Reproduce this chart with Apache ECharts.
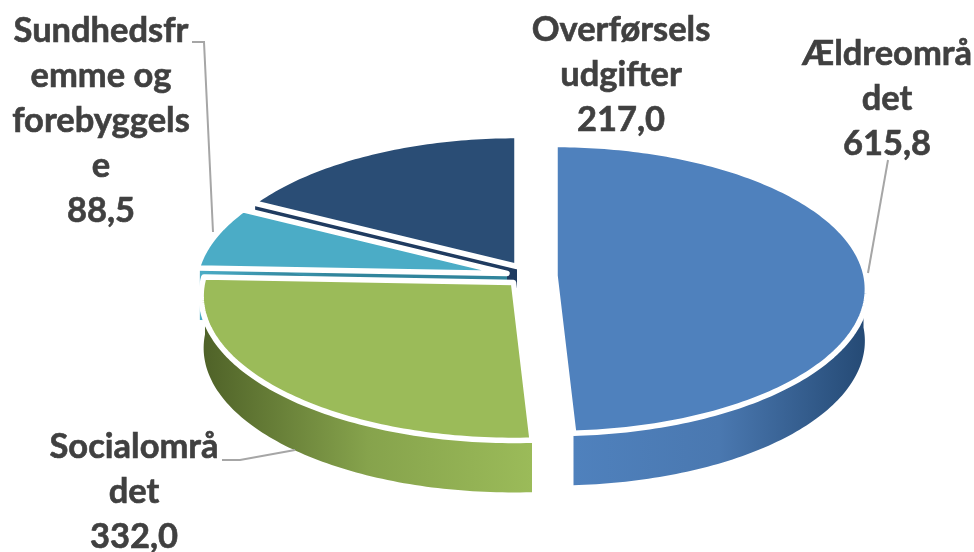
<!DOCTYPE html>
<html>
<head>
<meta charset="utf-8">
<style>html,body{margin:0;background:#fff}#chart{width:974px;height:552px}</style>
<script src="https://cdn.jsdelivr.net/npm/echarts@6/dist/echarts.min.js"></script>
</head>
<body>
<div id="chart"></div>
<script>
const categories = ['Ældreområ\ndet', 'Socialområ\ndet', 'Sundhedsfr\nemme og\nforebyggels\ne', 'Overførsels\nudgifter'];
const values = [615.8, 332.0, 88.5, 217.0];

// look of each slice, same order as the data
const colors = ['#4f81bd', '#9bbb59', '#4bacc6', '#2a4d75'];
const wallColors = [['#4f81bd', '#4a78b0', '#254a75'], ['#4f6228', '#86a34c', '#9bbb59'], ['#4bacc6', '#31859c', '#31859c', '#31859c'], ['#1f3b60', '#1f3b60']];
const centers = [[555, 275.5], [513.5, 282.5], [507, 273.5], [517, 266.5]];
const labelPos = [[887, 99], [134, 492], [101, 121], [621, 75]];
const leaders = [[[868, 273], [888, 160]], [[295, 450], [240, 460], [222, 460]], [[213, 232], [204, 42], [192, 42]], null];

const RX = 311, RY = 143.2, TILT = 0.0934, DEPTH = 52, WALL_INSET = 0.992;
const total = values.reduce((a, b) => a + b, 0);
const starts = values.map((v, i) => values.slice(0, i).reduce((a, b) => a + b, 0) / total * 360);

// point on the rim, near side drawn larger than far side
function pt(c, deg, drop, inset) {
  const t = deg * Math.PI / 180;
  const fwd = -Math.cos(t);
  const d = 1 - TILT * fwd;
  return [c[0] + (inset || 1) * RX * Math.sin(t) / d, c[1] + RY * fwd / d + (drop || 0)];
}

function arc(c, from, to, drop, inset) {
  const pts = [];
  for (let a = from; a < to; a += 1) pts.push(pt(c, a, drop, inset));
  pts.push(pt(c, to, drop, inset));
  return pts;
}

function grad(stops) {
  return {
    type: 'linear', x: 0, y: 0, x2: 1, y2: 0,
    colorStops: stops.map((color, i) => ({ offset: i / (stops.length - 1), color }))
  };
}

function renderSlice(params, api) {
  const i = api.value(1);
  const from = starts[i];
  const to = from + api.value(0) / total * 360;
  const c = centers[i];
  const children = [];
  const fill = grad(wallColors[i]);

  // cut faces, pulled in a little so they stay under the white rim
  if (i !== 0) {
    [from, to].forEach(a => {
      const p = pt(c, a, 0, WALL_INSET);
      children.push({
        type: 'polygon',
        shape: { points: [c, p, [p[0], p[1] + DEPTH], [c[0], c[1] + DEPTH]] },
        style: { fill }
      });
    });
  }

  // outer wall, front half only
  const wf = Math.max(from, 90), wt = Math.min(to, 270);
  if (wt > wf) {
    const top = arc(c, wf, wt, 0, WALL_INSET);
    const bottom = arc(c, wf, wt, DEPTH, WALL_INSET).reverse();
    children.push({ type: 'polygon', shape: { points: top.concat(bottom) }, style: { fill } });
  }

  children.push({
    type: 'polygon',
    shape: { points: [c].concat(arc(c, from, to)) },
    style: { fill: colors[i], stroke: '#fff', lineWidth: 5.5, lineJoin: 'round' }
  });

  if (leaders[i]) {
    children.push({
      type: 'polyline',
      shape: { points: leaders[i] },
      style: { fill: null, stroke: '#a6a6a6', lineWidth: 2 }
    });
  }

  children.push({
    type: 'text',
    x: labelPos[i][0],
    y: labelPos[i][1],
    style: {
      text: categories[i] + '\n' + values[i].toFixed(1).replace('.', ','),
      fill: '#404040',
      stroke: '#404040',
      lineWidth: 0.6,
      font: 'bold 34.5px Lato',
      lineHeight: 45,
      align: 'center',
      verticalAlign: 'middle'
    }
  });
  return { type: 'group', children };
}

const chart = echarts.init(document.getElementById('chart'));
chart.setOption({
  animation: false,
  series: [{
    type: 'custom',
    coordinateSystem: 'none',
    renderItem: renderSlice,
    // drawn back to front
    data: [3, 2, 1, 0].map(i => [values[i], i])
  }]
});
</script>
</body>
</html>
